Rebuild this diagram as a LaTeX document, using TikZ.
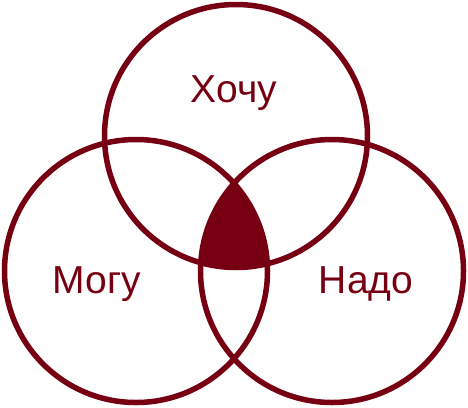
\documentclass[tikz,border=0pt]{standalone}
\usepackage{fontspec}
\setmainfont{Liberation Sans}
\definecolor{venn}{RGB}{118,0,18}
\begin{document}
\begin{tikzpicture}[x=1pt,y=-1pt,
  ring/.style={draw=venn,line width=5.5pt},
  lbl/.style={text=venn,font=\fontsize{39}{42}\selectfont,anchor=base,inner sep=0pt}]
\useasboundingbox (0,0) rectangle (468,407);
\coordinate (ct) at (236,136);
\coordinate (cl) at (136,271);
\coordinate (cr) at (332,271);
\begin{scope}
  \clip (ct) circle (131.5);
  \clip (cl) circle (131.5);
  \fill[venn] (cr) circle (131.5);
\end{scope}
\draw[ring] (ct) circle (131.5);
\draw[ring] (cl) circle (131.5);
\draw[ring] (cr) circle (131.5);
\node[lbl] (h) at (234,102) {Хочу};
\node[lbl] (m) at (97,293) {Могу};
\node[lbl] (n) at (366,293) {Надо};
\end{tikzpicture}
\end{document}
